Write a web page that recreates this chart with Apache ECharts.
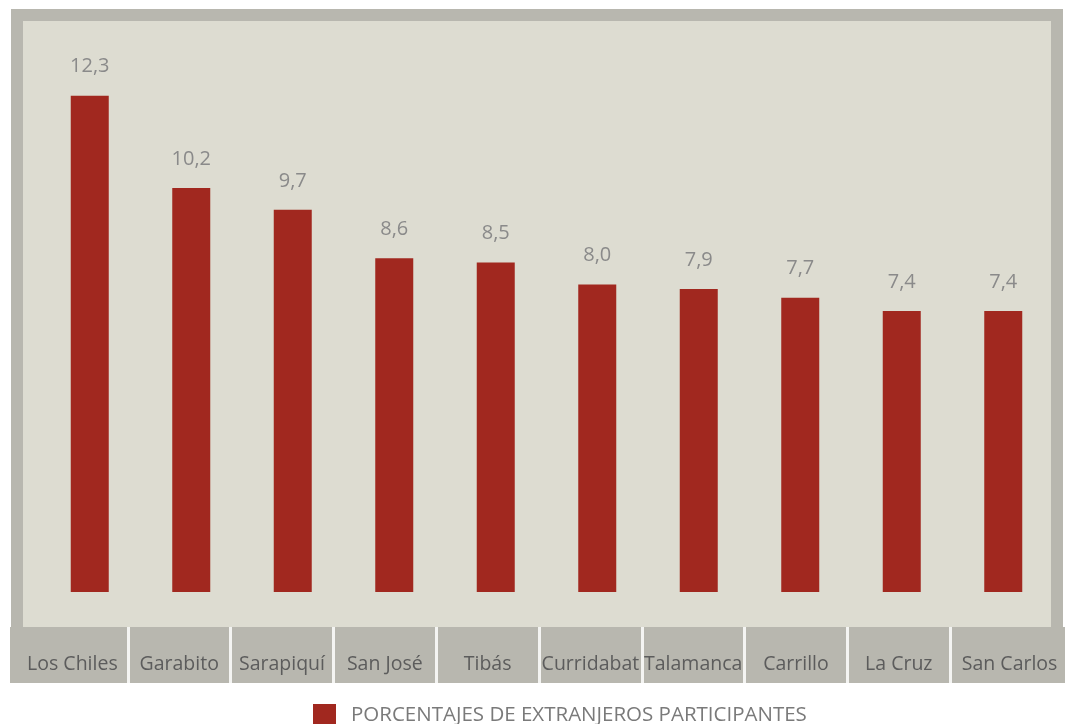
<!DOCTYPE html>
<html>
<head>
<meta charset="utf-8">
<script src="https://cdn.jsdelivr.net/npm/echarts@6/dist/echarts.min.js"></script>
<style>
  html, body { margin: 0; padding: 0; background: #fff; }
  #tu { width: 1066px; height: 724px; }
</style>
</head>
<body>
<div id="tu"></div>
<script>
var cantones = ['Los Chiles', 'Garabito', 'Sarapiquí', 'San José', 'Tibás', 'Curridabat', 'Talamanca', 'Carrillo', 'La Cruz', 'San Carlos'];
var porcentajes = [12.3, 10.2, 9.7, 8.6, 8.5, 8.0, 7.9, 7.7, 7.4, 7.4];
var serieNombre = 'PORCENTAJES DE EXTRANJEROS PARTICIPANTES';

var fuente = '"Open Sans", sans-serif';
var rojo = '#a1281f';
var gris = '#b8b7af';
var beige = '#dddcd1';

var myChart = echarts.init(document.getElementById('tu'));

// las celdas de los extremos son mas anchas: se corre un poco el texto
var etiquetas = cantones.map(function (c, i) {
    if (i === 0) return { value: c, textStyle: { verticalAlign: 'middle', padding: [0, 8, 0, 0] } };
    if (i === cantones.length - 1) return { value: c, textStyle: { verticalAlign: 'middle', padding: [0, 0, 0, 16] } };
    return c;
});

var option = {
    animation: false,
    backgroundColor: '#fff',
    textStyle: { fontFamily: fuente },
    graphic: [
        { type: 'rect', z: -100, silent: true, shape: { x: 11, y: 9, width: 1052, height: 620 }, style: { fill: gris } },
        { type: 'rect', z: -99, silent: true, shape: { x: 23, y: 21, width: 1028, height: 606 }, style: { fill: beige } },
        { type: 'rect', z: -98, silent: true, shape: { x: 10, y: 627, width: 1055, height: 56 }, style: { fill: gris } }
    ],
    legend: {
        left: 308,
        top: 699,
        icon: 'rect',
        itemWidth: 23,
        itemHeight: 23,
        textStyle: { fontFamily: fuente, fontSize: 20.5, color: '#7a7a7a', padding: [0, 0, 0, 10] },
        data: [serieNombre]
    },
    grid: [
        { left: 39, right: 12, top: 21, height: 571 },
        { left: 25, width: 1028, top: 627, height: 56 }
    ],
    xAxis: [
        { type: 'category', gridIndex: 0, data: cantones, show: false },
        {
            type: 'category', gridIndex: 1, data: etiquetas,
            axisLine: { show: false },
            axisTick: { show: false },
            axisLabel: { interval: 0, inside: true, margin: 19, verticalAlign: 'middle', fontFamily: fuente, fontSize: 19.5, color: '#5c5c5c' },
            splitLine: { show: true, interval: 0, showMinLine: false, showMaxLine: false, lineStyle: { color: '#f4f4f2', width: 3 } }
        }
    ],
    yAxis: [
        { type: 'value', gridIndex: 0, min: 1, max: 14, show: false },
        { type: 'value', gridIndex: 1, show: false }
    ],
    series: [{
        name: serieNombre,
        type: 'bar',
        xAxisIndex: 0,
        yAxisIndex: 0,
        barWidth: 38,
        clip: true,
        itemStyle: { color: rojo },
        label: {
            show: true,
            position: 'top',
            distance: 19,
            fontFamily: fuente,
            fontSize: 20,
            color: '#8a8a8a',
            formatter: function (p) { return p.value.toFixed(1).replace('.', ','); }
        },
        data: porcentajes
    }]
};

myChart.setOption(option);
</script>
</body>
</html>
